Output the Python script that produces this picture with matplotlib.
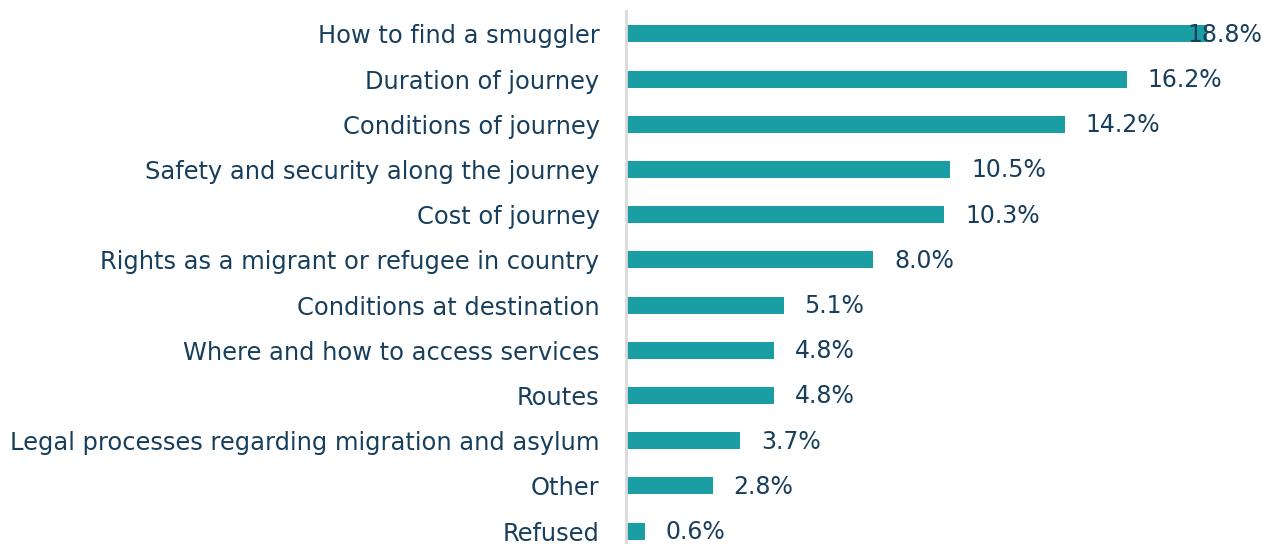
import matplotlib
matplotlib.use("Agg")
import matplotlib.pyplot as plt

categories = [
    "How to find a smuggler",
    "Duration of journey",
    "Conditions of journey",
    "Safety and security along the journey",
    "Cost of journey",
    "Rights as a migrant or refugee in country",
    "Conditions at destination",
    "Where and how to access services",
    "Routes",
    "Legal processes regarding migration and asylum",
    "Other",
    "Refused",
]
values = [18.8, 16.2, 14.2, 10.5, 10.3, 8.0, 5.1, 4.8, 4.8, 3.7, 2.8, 0.6]
value_labels = ["18.8%", "16.2%", "14.2%", "10.5%", "10.3%", "8.0%",
                "5.1%", "4.8%", "4.8%", "3.7%", "2.8%", "0.6%"]

bar_color = "#1a9da3"
text_color = "#173e5c"
font = "DejaVu Sans"

fig = plt.figure(figsize=(12.67, 5.44), dpi=100)
W, H = 1267, 544
left_px, right_px = 626, 1267
top_px, bottom_px = 11.4, 553.6
ax = fig.add_axes([left_px / W, 1 - bottom_px / H,
                   (right_px - left_px) / W, (bottom_px - top_px) / H])

n = len(categories)
ypos = list(range(n))
ax.barh(ypos, values, height=0.376, color=bar_color, left=0)
xmax = (right_px - left_px) / 30.9
ax.set_xlim(0, xmax)
ax.set_ylim(n - 0.5, -0.5)

for y, v, lab in zip(ypos, values, value_labels):
    x = v + 0.68
    ha = "left"
    if x + 2.3 > xmax:
        x = xmax - 0.15
        ha = "right"
    ax.text(x, y + 0.02, lab, ha=ha, va="center", fontsize=17,
            color=text_color, family=font)

ax.set_yticks(ypos)
ax.set_yticklabels(categories, fontsize=17.4, color=text_color, family=font)
ax.tick_params(axis="y", length=0, pad=19)
ax.tick_params(axis="x", bottom=False, labelbottom=False)
for s in ["top", "right", "bottom"]:
    ax.spines[s].set_visible(False)
ax.spines["left"].set_color("#d9d9d9")
ax.spines["left"].set_linewidth(2)

fig.savefig("out.png", dpi=100)
